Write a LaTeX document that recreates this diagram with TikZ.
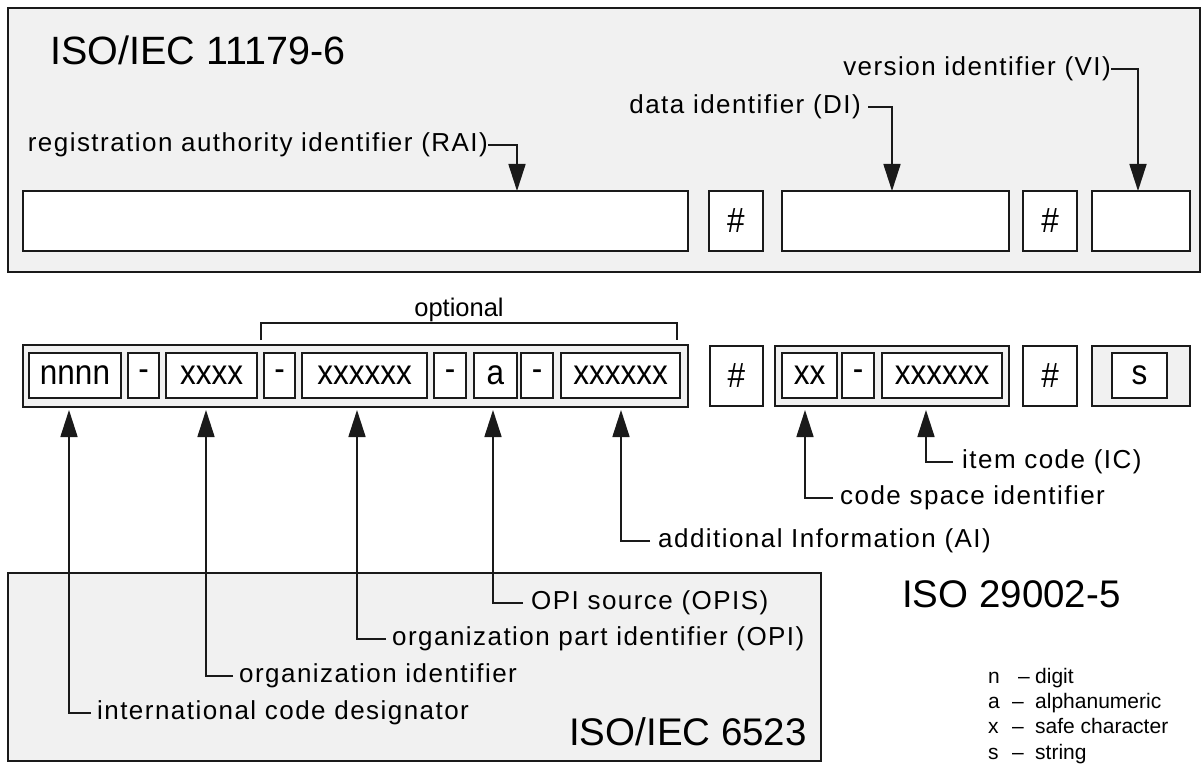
\documentclass[tikz,border=0pt]{standalone}
\usepackage{fontspec}
\setmainfont{Liberation Sans}
\newfontfamily\lblfont[LetterSpace=5.6]{Liberation Sans}
\newfontfamily\cellfam[FakeStretch=0.9]{Liberation Sans}
\usetikzlibrary{arrows.meta}
\definecolor{panelgray}{HTML}{F1F1F1}
\definecolor{ink}{HTML}{1A1A1A}

\tikzset{
  panel/.style={draw=ink, fill=panelgray, line width=1.7pt, inner sep=0pt, outer sep=0pt},
  cell/.style={draw=ink, fill=white, line width=1.7pt, inner sep=0pt, outer sep=0pt},
  conn/.style={draw=ink, line width=1.7pt},
  tipped/.style={-{Triangle[length=27pt,width=17pt]}},
  lbl/.style={inner sep=0pt, font=\lblfont\fontsize{26}{30}\selectfont},
  cellfont/.style={font=\cellfam\fontsize{35}{40}\selectfont},
  bigtitle/.style={inner sep=0pt, anchor=base west, font=\fontsize{38.5}{44}\selectfont},
  legend/.style={inner sep=0pt, anchor=base west, font=\fontsize{21}{24}\selectfont},
}

% box by corners: style, name, x1, y1, x2, y2, text
\newcommand\mkbox[7]{%
  \node[#1, minimum width={#5-#3}, minimum height={#6-#4}] (#2)
    at ({(#3+#5)/2},{(#4+#6)/2}) {#7};}

\begin{document}
\begin{tikzpicture}[x=1pt,y=-1pt]
\useasboundingbox (0,0) rectangle (1203,765);

% ---------------- ISO/IEC 11179-6 panel ----------------
\mkbox{panel}{p11179}{8}{8}{1200}{272}{}
\node[bigtitle, font=\fontsize{39.5}{44}\selectfont] (t11179) at (50,65) {ISO/IEC 11179-6};

\mkbox{cell}{rai}{23}{191}{688}{251}{}
\mkbox{cell,cellfont}{ha}{709}{191}{763}{251}{\#}
\mkbox{cell}{di}{782}{191}{1009}{251}{}
\mkbox{cell,cellfont}{hb}{1023}{191}{1077}{251}{\#}
\mkbox{cell}{vi}{1092}{191}{1190}{251}{}

\node[lbl, anchor=east] (railbl) at (488,145) {registration authority identifier (RAI)};
\node[lbl, anchor=east] (dilbl) at (861,107) {data identifier (DI)};
\node[lbl, anchor=east] (vilbl) at (1111,69) {version identifier (VI)};

\coordinate (raiin) at (517,191);
\coordinate (diin) at (892,191);
\coordinate (viin) at (1138,191);
\draw[conn,tipped] (railbl.east) -| (raiin);
\draw[conn,tipped] ([xshift=7pt]dilbl.east) -| (diin);
\draw[conn,tipped] (vilbl.east) -| (viin);

% ---------------- ISO 29002-5 code row ----------------
\mkbox{panel}{grpa}{23}{345}{688}{407}{}
\mkbox{cell,cellfont}{nnnn}{29}{353}{121}{398}{nnnn}
\mkbox{cell,cellfont}{da}{128}{353}{159}{398}{-}
\mkbox{cell,cellfont}{xa}{166}{353}{257}{398}{xxxx}
\mkbox{cell,cellfont}{db}{264}{353}{295}{398}{-}
\mkbox{cell,cellfont}{xb}{302}{353}{427}{398}{xxxxxx}
\mkbox{cell,cellfont}{dc}{434}{353}{466}{398}{-}
\mkbox{cell,cellfont}{aa}{474}{353}{517}{398}{a}
\mkbox{cell,cellfont}{dd}{521}{353}{553}{398}{-}
\mkbox{cell,cellfont}{xc}{561}{353}{680}{398}{xxxxxx}

\mkbox{cell,cellfont}{hc}{710}{346}{763}{406}{\#}

\mkbox{panel}{grpb}{775}{346}{1009}{406}{}
\mkbox{cell,cellfont}{xd}{782}{353}{837}{398}{xx}
\mkbox{cell,cellfont}{de}{842}{353}{874}{398}{-}
\mkbox{cell,cellfont}{xe}{882}{353}{1002}{398}{xxxxxx}

\mkbox{cell,cellfont}{hd}{1023}{346}{1077}{406}{\#}

\mkbox{panel}{grpc}{1092}{346}{1190}{406}{}
\mkbox{cell,cellfont}{ss}{1112}{353}{1167}{398}{s}

% optional bracket
\draw[conn] (261,340) -- (261,323) -- (677,323) -- (677,340);
\node[inner sep=0pt, anchor=base, font=\fontsize{25.5}{30}\selectfont] (opt) at (459,316) {optional};

% ---------------- ISO/IEC 6523 panel ----------------
\mkbox{panel}{p6523}{8}{573}{821}{761}{}
\node[bigtitle, anchor=base east] (t6523) at (807,745) {ISO/IEC 6523};

\node[lbl, anchor=west] (opislbl) at (531,603) {OPI source (OPIS)};
\node[lbl, anchor=west] (opilbl) at (392,639) {organization part identifier (OPI)};
\node[lbl, anchor=west] (oilbl) at (239,676) {organization identifier};
\node[lbl, anchor=west] (icdlbl) at (97,713) {international code designator};

\node[lbl, anchor=west] (iclbl) at (962,462) {item code (IC)};
\node[lbl, anchor=west] (csilbl) at (840,498) {code space identifier};
\node[lbl, anchor=west] (ailbl) at (658,541) {additional Information (AI)};

\node[bigtitle] (t29002) at (902,607) {ISO 29002-5};

% arrow targets under the code row
\coordinate (up1) at (69,410);
\coordinate (up2) at (206,410);
\coordinate (up3) at (357,410);
\coordinate (up4) at (493,410);
\coordinate (up5) at (621,410);
\coordinate (up6) at (805,410);
\coordinate (up7) at (926,410);

\draw[conn,tipped] ([xshift=-6pt]icdlbl.west) -| (up1);
\draw[conn,tipped] ([xshift=-6pt]oilbl.west) -| (up2);
\draw[conn,tipped] ([xshift=-6pt]opilbl.west) -| (up3);
\draw[conn,tipped] ([xshift=-8pt]opislbl.west) -| (up4);
\draw[conn,tipped] ([xshift=-8pt]ailbl.west) -| (up5);
\draw[conn,tipped] ([xshift=-7pt]csilbl.west) -| (up6);
\draw[conn,tipped] ([xshift=-9pt]iclbl.west) -| (up7);

% ---------------- legend ----------------
\node[legend] (ln) at (988,683) {n};
\node[legend] (lnd) at (1018,683) {--};
\node[legend] (lnt) at (1035,683) {digit};
\node[legend] (la) at (988,708) {a};
\node[legend] (lad) at (1012,708) {--};
\node[legend] (lat) at (1035,708) {alphanumeric};
\node[legend] (lx) at (988,733) {x};
\node[legend] (lxd) at (1012,733) {--};
\node[legend] (lxt) at (1035,733) {safe character};
\node[legend] (ls) at (988,759) {s};
\node[legend] (lsd) at (1012,759) {--};
\node[legend] (lst) at (1035,759) {string};
\end{tikzpicture}
\end{document}
